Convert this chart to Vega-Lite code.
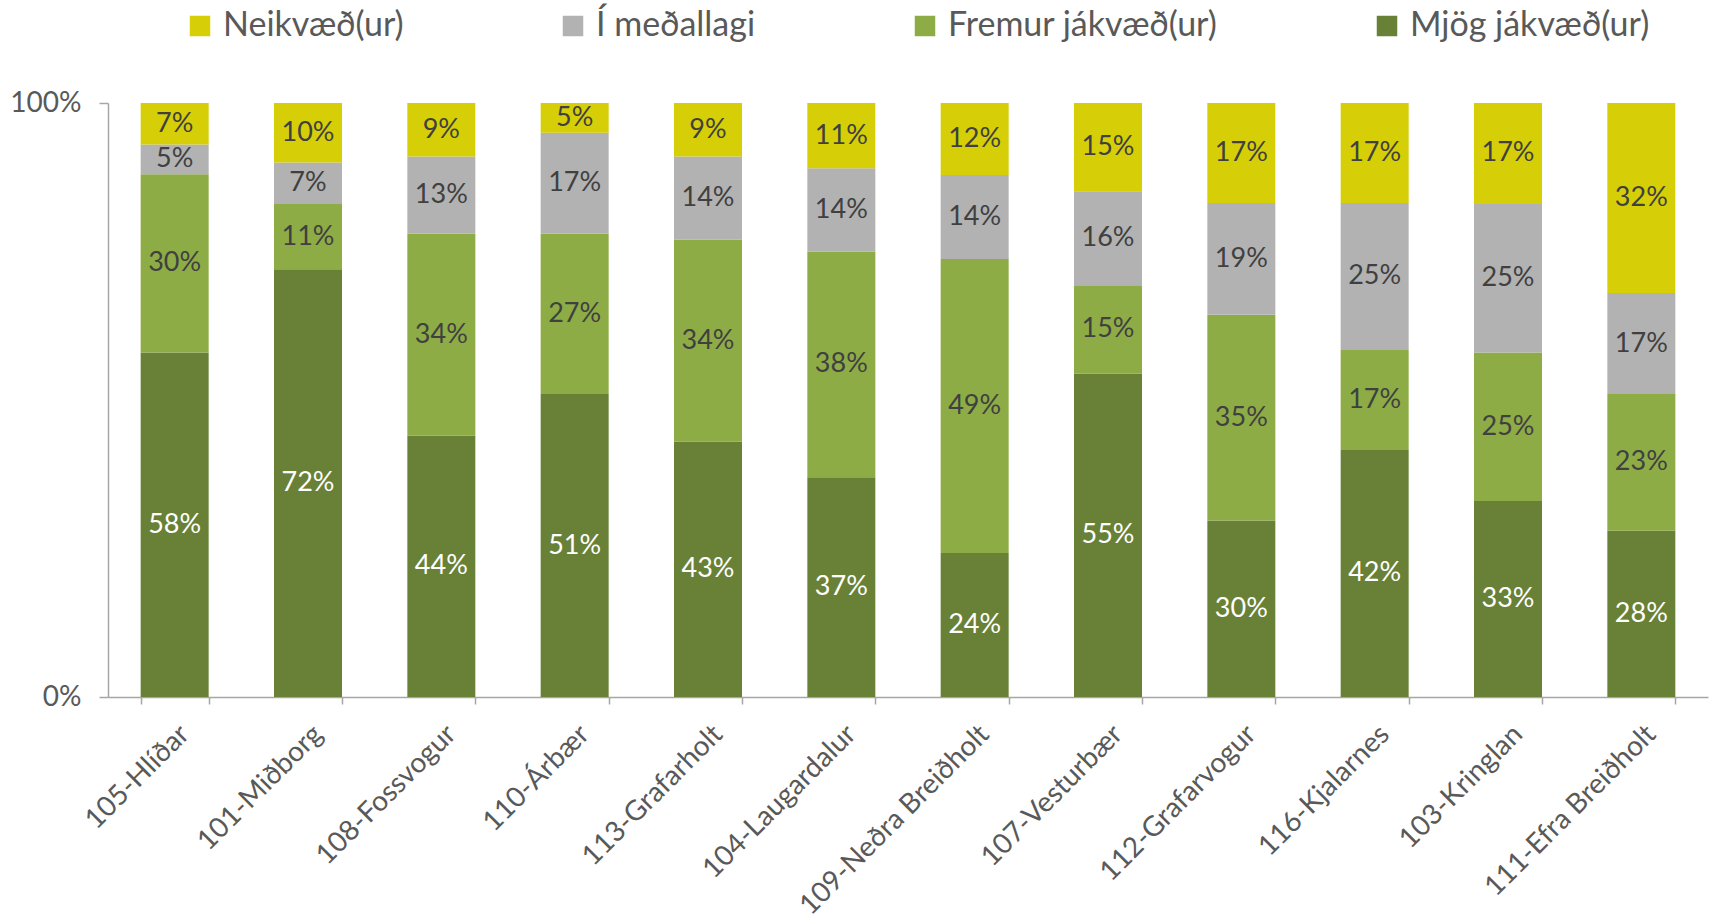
{
  "$schema": "https://vega.github.io/schema/vega-lite/v6.json",
  "width": 1600,
  "height": 594,
  "autosize": {"type": "none"},
  "padding": {"left": 108, "top": 103, "right": 2, "bottom": 225},
  "background": "white",
  "config": {"font": "Lato", "view": {"stroke": null}},
  "data": {"values": [
    {"hverfi": "105-Hlíðar", "cat": "Mjög jákvæð(ur)", "value": 0.58},
    {"hverfi": "105-Hlíðar", "cat": "Fremur jákvæð(ur)", "value": 0.30},
    {"hverfi": "105-Hlíðar", "cat": "Í meðallagi", "value": 0.05},
    {"hverfi": "105-Hlíðar", "cat": "Neikvæð(ur)", "value": 0.07},
    {"hverfi": "101-Miðborg", "cat": "Mjög jákvæð(ur)", "value": 0.72},
    {"hverfi": "101-Miðborg", "cat": "Fremur jákvæð(ur)", "value": 0.11},
    {"hverfi": "101-Miðborg", "cat": "Í meðallagi", "value": 0.07},
    {"hverfi": "101-Miðborg", "cat": "Neikvæð(ur)", "value": 0.10},
    {"hverfi": "108-Fossvogur", "cat": "Mjög jákvæð(ur)", "value": 0.44},
    {"hverfi": "108-Fossvogur", "cat": "Fremur jákvæð(ur)", "value": 0.34},
    {"hverfi": "108-Fossvogur", "cat": "Í meðallagi", "value": 0.13},
    {"hverfi": "108-Fossvogur", "cat": "Neikvæð(ur)", "value": 0.09},
    {"hverfi": "110-Árbær", "cat": "Mjög jákvæð(ur)", "value": 0.51},
    {"hverfi": "110-Árbær", "cat": "Fremur jákvæð(ur)", "value": 0.27},
    {"hverfi": "110-Árbær", "cat": "Í meðallagi", "value": 0.17},
    {"hverfi": "110-Árbær", "cat": "Neikvæð(ur)", "value": 0.05},
    {"hverfi": "113-Grafarholt", "cat": "Mjög jákvæð(ur)", "value": 0.43},
    {"hverfi": "113-Grafarholt", "cat": "Fremur jákvæð(ur)", "value": 0.34},
    {"hverfi": "113-Grafarholt", "cat": "Í meðallagi", "value": 0.14},
    {"hverfi": "113-Grafarholt", "cat": "Neikvæð(ur)", "value": 0.09},
    {"hverfi": "104-Laugardalur", "cat": "Mjög jákvæð(ur)", "value": 0.37},
    {"hverfi": "104-Laugardalur", "cat": "Fremur jákvæð(ur)", "value": 0.38},
    {"hverfi": "104-Laugardalur", "cat": "Í meðallagi", "value": 0.14},
    {"hverfi": "104-Laugardalur", "cat": "Neikvæð(ur)", "value": 0.11},
    {"hverfi": "109-Neðra Breiðholt", "cat": "Mjög jákvæð(ur)", "value": 0.24},
    {"hverfi": "109-Neðra Breiðholt", "cat": "Fremur jákvæð(ur)", "value": 0.49},
    {"hverfi": "109-Neðra Breiðholt", "cat": "Í meðallagi", "value": 0.14},
    {"hverfi": "109-Neðra Breiðholt", "cat": "Neikvæð(ur)", "value": 0.12},
    {"hverfi": "107-Vesturbær", "cat": "Mjög jákvæð(ur)", "value": 0.55},
    {"hverfi": "107-Vesturbær", "cat": "Fremur jákvæð(ur)", "value": 0.15},
    {"hverfi": "107-Vesturbær", "cat": "Í meðallagi", "value": 0.16},
    {"hverfi": "107-Vesturbær", "cat": "Neikvæð(ur)", "value": 0.15},
    {"hverfi": "112-Grafarvogur", "cat": "Mjög jákvæð(ur)", "value": 0.30},
    {"hverfi": "112-Grafarvogur", "cat": "Fremur jákvæð(ur)", "value": 0.35},
    {"hverfi": "112-Grafarvogur", "cat": "Í meðallagi", "value": 0.19},
    {"hverfi": "112-Grafarvogur", "cat": "Neikvæð(ur)", "value": 0.17},
    {"hverfi": "116-Kjalarnes", "cat": "Mjög jákvæð(ur)", "value": 0.42},
    {"hverfi": "116-Kjalarnes", "cat": "Fremur jákvæð(ur)", "value": 0.17},
    {"hverfi": "116-Kjalarnes", "cat": "Í meðallagi", "value": 0.25},
    {"hverfi": "116-Kjalarnes", "cat": "Neikvæð(ur)", "value": 0.17},
    {"hverfi": "103-Kringlan", "cat": "Mjög jákvæð(ur)", "value": 0.33},
    {"hverfi": "103-Kringlan", "cat": "Fremur jákvæð(ur)", "value": 0.25},
    {"hverfi": "103-Kringlan", "cat": "Í meðallagi", "value": 0.25},
    {"hverfi": "103-Kringlan", "cat": "Neikvæð(ur)", "value": 0.17},
    {"hverfi": "111-Efra Breiðholt", "cat": "Mjög jákvæð(ur)", "value": 0.28},
    {"hverfi": "111-Efra Breiðholt", "cat": "Fremur jákvæð(ur)", "value": 0.23},
    {"hverfi": "111-Efra Breiðholt", "cat": "Í meðallagi", "value": 0.17},
    {"hverfi": "111-Efra Breiðholt", "cat": "Neikvæð(ur)", "value": 0.32}
  ]},
  "transform": [
    {"calculate": "indexof(['Mjög jákvæð(ur)','Fremur jákvæð(ur)','Í meðallagi','Neikvæð(ur)'], datum.cat)", "as": "rank"},
    {"stack": "value", "groupby": ["hverfi"], "sort": [{"field": "rank", "order": "ascending"}], "offset": "normalize", "as": ["y0", "y1"]},
    {"calculate": "(datum.y0 + datum.y1) / 2", "as": "ymid"}
  ],
  "encoding": {
    "x": {
      "field": "hverfi", "type": "nominal", "sort": null,
      "scale": {"paddingInner": 0.49, "paddingOuter": 0.245},
      "axis": {
        "title": null, "labelAngle": -45, "labelFontSize": 28, "labelColor": "#595959",
        "labelFont": "Lato", "labelLimit": 0, "tickBand": "extent", "tickSize": 7, "domainColor": "#A6A6A6",
        "tickColor": "#A6A6A6", "domainWidth": 1.5, "tickWidth": 1.5, "labelPadding": 16
      }
    }
  },
  "layer": [
    {
      "mark": {"type": "bar"},
      "encoding": {
        "y": {
          "field": "y0", "type": "quantitative", "scale": {"domain": [0, 1]},
          "axis": {
            "values": [0, 1], "format": ".0%", "title": null, "grid": false, "tickSize": 9,
            "domainColor": "#A6A6A6", "tickColor": "#A6A6A6", "domainWidth": 1.5, "tickWidth": 1.5,
            "labelFontSize": 28, "labelColor": "#595959", "labelFont": "Lato", "labelPadding": 18
          }
        },
        "y2": {"field": "y1"},
        "color": {
          "field": "cat", "type": "nominal",
          "scale": {
            "domain": ["Neikvæð(ur)", "Í meðallagi", "Fremur jákvæð(ur)", "Mjög jákvæð(ur)"],
            "range": ["#D6CF07", "#B2B2B2", "#8EAC46", "#698136"]
          },
          "legend": {
            "orient": "none", "legendX": 75, "legendY": -94, "direction": "horizontal",
            "title": null, "symbolType": "square", "symbolSize": 420, "symbolStrokeWidth": 0,
            "labelFontSize": 34, "labelColor": "#595959", "labelFont": "Lato", "labelOffset": 6,
            "labelLimit": 0, "columnPadding": 152, "padding": 0
          }
        }
      }
    },
    {
      "mark": {"type": "text", "font": "Lato", "fontSize": 27},
      "encoding": {
        "y": {"field": "ymid", "type": "quantitative"},
        "text": {"field": "value", "type": "quantitative", "format": ".0%"},
        "color": {
          "condition": {"test": "datum.cat === 'Mjög jákvæð(ur)'", "value": "white"},
          "value": "#404040"
        }
      }
    }
  ]
}
